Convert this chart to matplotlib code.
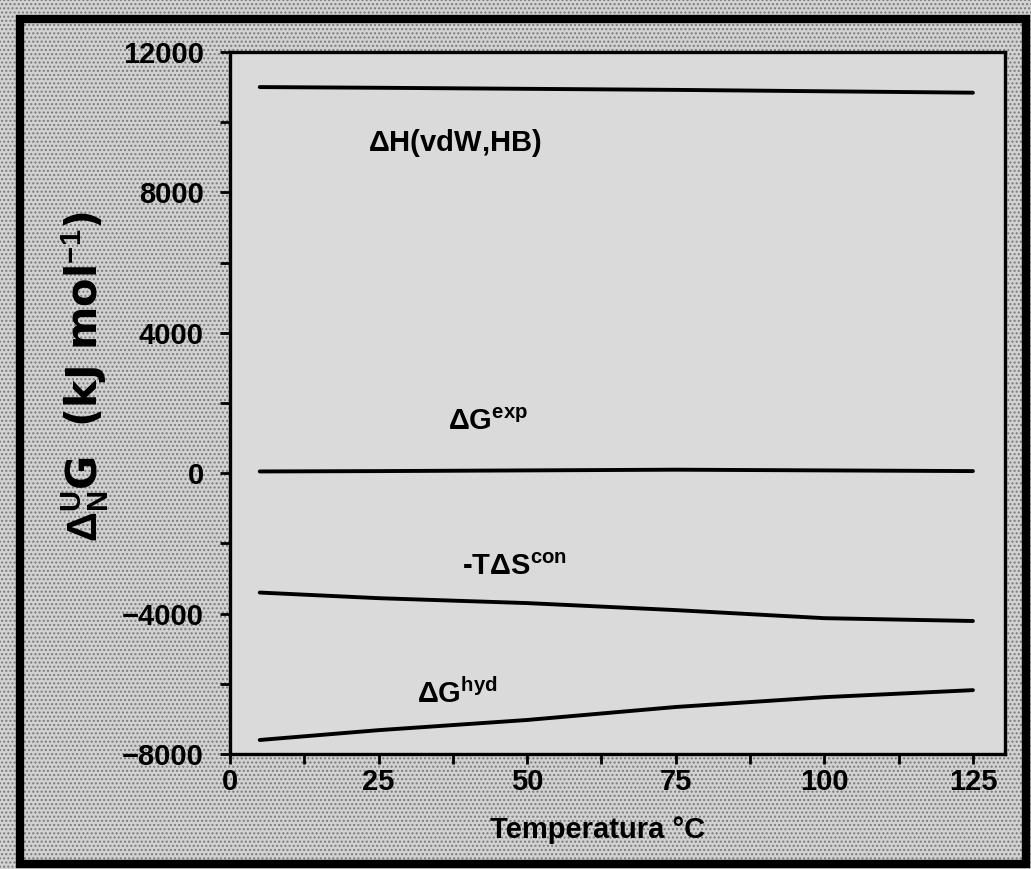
import matplotlib.pyplot as plt
from matplotlib.patches import Rectangle
from matplotlib.ticker import MultipleLocator

# temperatures (°C) and free energy contributions (kJ/mol)
temp = [5, 25, 50, 75, 100, 125]
dh_vdw_hb = [11000, 10980, 10950, 10920, 10880, 10840]
dg_exp = [50, 60, 80, 100, 80, 60]
tds_con = [-3400, -3560, -3700, -3900, -4130, -4210]
dg_hyd = [-7600, -7320, -7030, -6660, -6380, -6180]

x_ticks = [0, 25, 50, 75, 100, 125]
y_ticks = [-8000, -4000, 0, 4000, 8000, 12000]

labels = {
    "dh": r"$\Delta$H(vdW,HB)",
    "exp": r"$\Delta$G$^{\rm exp}$",
    "tds": r"-T$\Delta$S$^{\rm con}$",
    "hyd": r"$\Delta$G$^{\rm hyd}$",
}

plt.rcParams['font.family'] = ['Liberation Sans', 'DejaVu Sans']
plt.rcParams['font.weight'] = 'bold'
plt.rcParams['axes.labelweight'] = 'bold'
plt.rcParams['mathtext.fontset'] = 'custom'
plt.rcParams['mathtext.rm'] = 'Liberation Sans:bold'
plt.rcParams['mathtext.it'] = 'Liberation Sans:bold'
plt.rcParams['mathtext.bf'] = 'Liberation Sans:bold'

fig = plt.figure(figsize=(10.31, 8.69), dpi=100)
fig.patch.set_facecolor('#d2d2d2')

# stipple background like the scanned print
bg = Rectangle((0, 0), 1, 1, transform=fig.transFigure, facecolor='none',
               edgecolor='#7a7a7a', hatch='....', linewidth=0, zorder=-1)
fig.patches.append(bg)
frame = Rectangle((0.019, 0.006), 0.976, 0.972, transform=fig.transFigure,
                  facecolor='none', edgecolor='black', linewidth=6)
fig.patches.append(frame)

ax = fig.add_axes([0.2231, 0.1323, 0.7517, 0.8079])
ax.set_facecolor('#dadada')

for y in (dh_vdw_hb, dg_exp, tds_con, dg_hyd):
    ax.plot(temp, y, color='black', linewidth=2.8, solid_capstyle='round')

ax.set_xlim(0, 130.4)
ax.set_ylim(-8000, 12000)
ax.set_xticks(x_ticks)
ax.set_yticks(y_ticks)
ax.xaxis.set_minor_locator(MultipleLocator(12.5))
ax.yaxis.set_minor_locator(MultipleLocator(2000))
ax.tick_params(which='both', direction='out', width=2, length=7, labelsize=21)
ax.tick_params(axis='x', pad=3)
ax.tick_params(axis='y', pad=12)
for s in ax.spines.values():
    s.set_linewidth(2.4)

ax.text(23.3, 9400, labels["dh"], fontsize=21, ha='left', va='center')
ax.text(36.6, 1450, labels["exp"], fontsize=21, ha='left', va='center')
ax.text(39, -2670, labels["tds"], fontsize=21, ha='left', va='center')
ax.text(31.5, -6280, labels["hyd"], fontsize=21, ha='left', va='center')

ax.set_xlabel("Temperatura °C", fontsize=21)
ax.xaxis.set_label_coords(0.474, -0.088)
ax.set_ylabel(r"$\Delta_{\bf N}^{\bf U}$G  (kJ mol$^{-1}$)", fontsize=30,
              family='DejaVu Sans')
ax.yaxis.set_label_coords(-0.153, 0.537)

fig.savefig('out.png', dpi=100, facecolor=fig.get_facecolor())
